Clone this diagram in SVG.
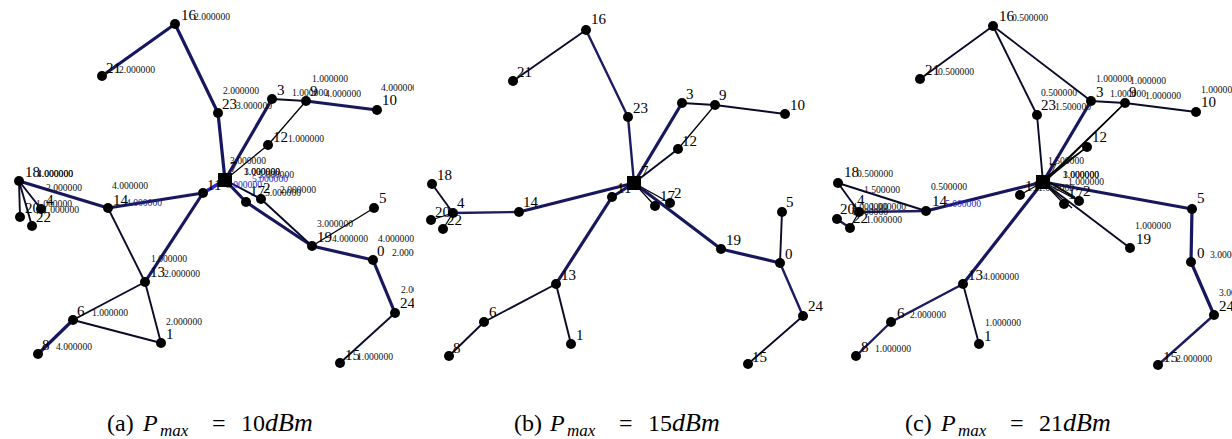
<svg xmlns="http://www.w3.org/2000/svg" width="1232" height="439" viewBox="0 0 1232 439">
<defs>
<style>
.n{fill:#000}
.h{fill:#000}
.lb{font-family:"Liberation Serif",serif;font-size:15px;fill:#000}
.v{font-family:"Liberation Serif",serif;font-size:9.6px;fill:#111}
.vb{font-family:"Liberation Serif",serif;font-size:9.6px;fill:#2a2acc}
.t{stroke:#000;stroke-width:1.3;fill:none}
.k{stroke:#0a0a2a;stroke-width:1.9;fill:none}
.m{stroke:#1b1b60;stroke-width:2.4;fill:none}
.w{stroke:#17175e;stroke-width:3.2;fill:none}
.b{stroke:#2b2bd0;stroke-width:3.6;fill:none}
.cap{font-family:"Liberation Serif",serif;font-size:24px;fill:#000}
.capi{font-family:"Liberation Serif",serif;font-style:italic;fill:#000}
</style>
<clipPath id="ca"><rect x="0" y="0" width="414" height="400"/></clipPath>
<clipPath id="cb"><rect x="414" y="0" width="412" height="400"/></clipPath>
<clipPath id="cc"><rect x="820" y="0" width="412" height="400"/></clipPath>
</defs>
<rect width="1232" height="439" fill="#fff"/>

<!-- ================= PANEL A ================= -->
<g id="panel-a" clip-path="url(#ca)">
<g id="a-edges">
<line class="w" x1="175" y1="24" x2="102" y2="76"/>
<line class="w" x1="175" y1="24" x2="218" y2="113"/>
<line class="w" x1="218" y1="113" x2="225" y2="180"/>
<line class="w" x1="225" y1="180" x2="272" y2="99"/>
<line class="k" x1="272" y1="99" x2="306" y2="101"/>
<line class="w" x1="306" y1="101" x2="377" y2="110"/>
<line class="t" x1="306" y1="101" x2="268" y2="145"/>
<line class="t" x1="268" y1="145" x2="225" y2="180"/>
<line class="w" x1="19" y1="181" x2="108" y2="208"/>
<line class="k" x1="19" y1="181" x2="20" y2="217"/>
<line class="k" x1="19" y1="181" x2="32" y2="226"/>
<line class="k" x1="19" y1="181" x2="41" y2="209"/>
<line class="w" x1="108" y1="208" x2="203" y2="193"/>
<line class="b" x1="203" y1="193" x2="225" y2="180"/>
<line class="k" x1="108" y1="208" x2="145" y2="282"/>
<line class="w" x1="203" y1="193" x2="145" y2="282"/>
<line class="k" x1="145" y1="282" x2="73" y2="320"/>
<line class="k" x1="145" y1="282" x2="161" y2="343"/>
<line class="k" x1="73" y1="320" x2="161" y2="343"/>
<line class="w" x1="73" y1="320" x2="38" y2="354"/>
<line class="w" x1="225" y1="180" x2="246" y2="202"/>
<line class="w" x1="246" y1="202" x2="312" y2="246"/>
<line class="k" x1="225" y1="180" x2="261" y2="199"/>
<line class="k" x1="261" y1="199" x2="312" y2="246"/>
<line class="t" x1="312" y1="246" x2="374" y2="208"/>
<line class="w" x1="312" y1="246" x2="373" y2="260"/>
<line class="w" x1="373" y1="260" x2="395" y2="313"/>
<line class="k" x1="395" y1="313" x2="340" y2="363"/>
</g>
<g id="a-n16"><circle class="n" cx="175" cy="24" r="5"/><text class="lb" x="181" y="20">16</text><text class="v" x="194" y="20">2.000000</text></g>
<g id="a-n21"><circle class="n" cx="102" cy="76" r="5"/><text class="lb" x="106" y="73">21</text><text class="v" x="119" y="73">2.000000</text></g>
<g id="a-n23"><circle class="n" cx="218" cy="113" r="5"/><text class="lb" x="222" y="109">23</text><text class="v" x="236" y="109">3.000000</text><text class="v" x="223" y="94">2.000000</text></g>
<g id="a-n3"><circle class="n" cx="272" cy="99" r="5"/><text class="lb" x="277" y="95">3</text></g>
<g id="a-n9"><circle class="n" cx="306" cy="101" r="5"/><text class="v" x="292" y="96">1.000000</text><text class="lb" x="310" y="96">9</text><text class="v" x="325" y="97">4.000000</text><text class="v" x="312" y="82">1.000000</text></g>
<g id="a-n10"><circle class="n" cx="377" cy="110" r="5"/><text class="lb" x="382" y="105">10</text><text class="v" x="381" y="91">4.000000</text></g>
<g id="a-n12"><circle class="n" cx="268" cy="145" r="5"/><text class="lb" x="273" y="142">12</text><text class="v" x="288" y="142">1.000000</text></g>
<g id="a-n18"><circle class="n" cx="19" cy="181" r="5"/><text class="lb" x="25" y="177">18</text><text class="v" x="37" y="177">4.000000</text><text class="v" x="37" y="177">1.000000</text><text class="v" x="46" y="191">2.000000</text></g>
<g id="a-n20"><circle class="n" cx="20" cy="217" r="5"/><text class="lb" x="25" y="213">20</text></g>
<g id="a-n22"><circle class="n" cx="32" cy="226" r="5"/><text class="lb" x="36" y="222">22</text></g>
<g id="a-n4"><circle class="n" cx="41" cy="209" r="5"/><text class="lb" x="46" y="205">4</text><text class="v" x="36" y="207">1.000000</text><text class="v" x="43" y="213">1.000000</text></g>
<g id="a-n14"><circle class="n" cx="108" cy="208" r="5"/><text class="lb" x="113" y="205">14</text><text class="v" x="126" y="206" style="fill:#222288">4.000000</text><text class="v" x="112" y="189">4.000000</text></g>
<g id="a-n11"><circle class="n" cx="203" cy="193" r="5"/><text class="lb" x="207" y="190">11</text></g>
<g id="a-n17"><circle class="n" cx="246" cy="202" r="5"/><text class="lb" x="250" y="196">17</text><text class="v" x="265" y="196">5.000000</text></g>
<g id="a-n2"><circle class="n" cx="261" cy="199" r="5"/><text class="lb" x="263" y="193">2</text><text class="v" x="280" y="193">2.000000</text></g>
<g id="a-n7"><text class="v" x="230" y="164">3.000000</text><text class="lb" x="230" y="172">7</text><text class="v" x="244" y="175">1.000000</text><text class="v" x="244" y="175">3.000000</text><text class="v" x="258" y="178">5.000000</text><text class="vb" x="252" y="182">5.000000</text><text class="vb" x="226" y="188">5.000000</text><rect class="h" x="218" y="173" width="14" height="14"/></g>
<g id="a-n19"><circle class="n" cx="312" cy="246" r="5"/><text class="lb" x="317" y="242">19</text><text class="v" x="332" y="242">4.000000</text><text class="v" x="317" y="227">3.000000</text></g>
<g id="a-n5"><circle class="n" cx="374" cy="208" r="5"/><text class="lb" x="379" y="203">5</text></g>
<g id="a-n0"><circle class="n" cx="373" cy="260" r="5"/><text class="lb" x="377" y="256">0</text><text class="v" x="392" y="256">2.000000</text><text class="v" x="378" y="242">4.000000</text></g>
<g id="a-n24"><circle class="n" cx="395" cy="313" r="5"/><text class="lb" x="400" y="308">24</text><text class="v" x="401" y="293">2.000000</text></g>
<g id="a-n15"><circle class="n" cx="340" cy="363" r="5"/><text class="lb" x="345" y="360">15</text><text class="v" x="357" y="360">1.000000</text></g>
<g id="a-n13"><circle class="n" cx="145" cy="282" r="5"/><text class="lb" x="150" y="277">13</text><text class="v" x="164" y="277">2.000000</text><text class="v" x="151" y="262">1.000000</text></g>
<g id="a-n6"><circle class="n" cx="73" cy="320" r="5"/><text class="lb" x="77" y="316">6</text><text class="v" x="92" y="316">1.000000</text></g>
<g id="a-n1"><circle class="n" cx="161" cy="343" r="5"/><text class="lb" x="166" y="339">1</text><text class="v" x="166" y="325">2.000000</text></g>
<g id="a-n8"><circle class="n" cx="38" cy="354" r="5"/><text class="lb" x="42" y="350">8</text><text class="v" x="56" y="350">4.000000</text></g>
</g>

<!-- ================= PANEL B ================= -->
<g id="panel-b" clip-path="url(#cb)">
<g id="b-edges">
<line class="k" x1="586" y1="30" x2="513" y2="81"/>
<line class="m" x1="586" y1="30" x2="628" y2="117"/>
<line class="m" x1="628" y1="117" x2="634" y2="183"/>
<line class="w" x1="634" y1="183" x2="682" y2="103"/>
<line class="k" x1="682" y1="103" x2="715" y2="105"/>
<line class="k" x1="715" y1="105" x2="785" y2="114"/>
<line class="t" x1="715" y1="105" x2="678" y2="149"/>
<line class="k" x1="678" y1="149" x2="634" y2="183"/>
<line class="k" x1="432" y1="184" x2="453" y2="213"/>
<line class="t" x1="453" y1="213" x2="431" y2="220"/>
<line class="t" x1="453" y1="213" x2="443" y2="229"/>
<line class="m" x1="453" y1="213" x2="519" y2="212"/>
<line class="w" x1="519" y1="212" x2="634" y2="183"/>
<line class="w" x1="634" y1="183" x2="612" y2="197"/>
<line class="w" x1="612" y1="197" x2="556" y2="284"/>
<line class="t" x1="634" y1="183" x2="655" y2="206"/>
<line class="t" x1="634" y1="183" x2="670" y2="203"/>
<line class="w" x1="634" y1="183" x2="721" y2="249"/>
<line class="w" x1="721" y1="249" x2="780" y2="263"/>
<line class="k" x1="780" y1="263" x2="782" y2="212"/>
<line class="m" x1="780" y1="263" x2="803" y2="316"/>
<line class="k" x1="803" y1="316" x2="748" y2="364"/>
<line class="k" x1="556" y1="284" x2="484" y2="322"/>
<line class="k" x1="484" y1="322" x2="449" y2="356"/>
<line class="k" x1="556" y1="284" x2="571" y2="344"/>
</g>
<g id="b-n16"><circle class="n" cx="586" cy="30" r="5"/><text class="lb" x="591" y="24">16</text></g>
<g id="b-n21"><circle class="n" cx="513" cy="81" r="5"/><text class="lb" x="517" y="77">21</text></g>
<g id="b-n23"><circle class="n" cx="628" cy="117" r="5"/><text class="lb" x="633" y="113">23</text></g>
<g id="b-n3"><circle class="n" cx="682" cy="103" r="5"/><text class="lb" x="686" y="99">3</text></g>
<g id="b-n9"><circle class="n" cx="715" cy="105" r="5"/><text class="lb" x="719" y="100">9</text></g>
<g id="b-n10"><circle class="n" cx="785" cy="114" r="5"/><text class="lb" x="790" y="110">10</text></g>
<g id="b-n12"><circle class="n" cx="678" cy="149" r="5"/><text class="lb" x="682" y="146">12</text></g>
<g id="b-n18"><circle class="n" cx="432" cy="184" r="5"/><text class="lb" x="437" y="180">18</text></g>
<g id="b-n4"><circle class="n" cx="453" cy="213" r="5"/><text class="lb" x="457" y="208">4</text></g>
<g id="b-n20"><circle class="n" cx="431" cy="220" r="5"/><text class="lb" x="435" y="217">20</text></g>
<g id="b-n22"><circle class="n" cx="443" cy="229" r="5"/><text class="lb" x="447" y="225">22</text></g>
<g id="b-n14"><circle class="n" cx="519" cy="212" r="5"/><text class="lb" x="523" y="207">14</text></g>
<g id="b-n11"><circle class="n" cx="612" cy="197" r="5"/><text class="lb" x="617" y="193">11</text></g>
<g id="b-n7"><text class="lb" x="641" y="176">7</text><rect class="h" x="627" y="176" width="14" height="14"/></g>
<g id="b-n17"><circle class="n" cx="655" cy="206" r="5"/><text class="lb" x="660" y="201">17</text></g>
<g id="b-n2"><circle class="n" cx="670" cy="203" r="5"/><text class="lb" x="674" y="198">2</text></g>
<g id="b-n19"><circle class="n" cx="721" cy="249" r="5"/><text class="lb" x="726" y="245">19</text></g>
<g id="b-n0"><circle class="n" cx="780" cy="263" r="5"/><text class="lb" x="785" y="259">0</text></g>
<g id="b-n5"><circle class="n" cx="782" cy="212" r="5"/><text class="lb" x="786" y="207">5</text></g>
<g id="b-n24"><circle class="n" cx="803" cy="316" r="5"/><text class="lb" x="808" y="311">24</text></g>
<g id="b-n15"><circle class="n" cx="748" cy="364" r="5"/><text class="lb" x="752" y="362">15</text></g>
<g id="b-n13"><circle class="n" cx="556" cy="284" r="5"/><text class="lb" x="561" y="280">13</text></g>
<g id="b-n6"><circle class="n" cx="484" cy="322" r="5"/><text class="lb" x="489" y="317">6</text></g>
<g id="b-n1"><circle class="n" cx="571" cy="344" r="5"/><text class="lb" x="576" y="340">1</text></g>
<g id="b-n8"><circle class="n" cx="449" cy="356" r="5"/><text class="lb" x="453" y="353">8</text></g>
</g>

<!-- ================= PANEL C ================= -->
<g id="panel-c" clip-path="url(#cc)">
<g id="c-edges">
<line class="k" x1="993" y1="26" x2="920" y2="79"/>
<line class="k" x1="993" y1="26" x2="1037" y2="115"/>
<line class="k" x1="993" y1="26" x2="1091" y2="101"/>
<line class="k" x1="1037" y1="115" x2="1043" y2="182"/>
<line class="w" x1="1043" y1="182" x2="1091" y2="101"/>
<line class="k" x1="1091" y1="101" x2="1125" y2="103"/>
<line class="k" x1="1125" y1="103" x2="1196" y2="112"/>
<line class="t" x1="1125" y1="103" x2="1043" y2="182"/>
<line class="t" x1="1125" y1="103" x2="1048" y2="179"/>
<line class="t" x1="1087" y1="147" x2="1043" y2="182"/>
<line class="t" x1="1087" y1="147" x2="1046" y2="177"/>
<line class="k" x1="838" y1="183" x2="926" y2="211"/>
<line class="k" x1="838" y1="183" x2="859" y2="212"/>
<line class="t" x1="859" y1="212" x2="850" y2="228"/>
<line class="m" x1="837" y1="219" x2="850" y2="228"/>
<line class="m" x1="859" y1="212" x2="926" y2="211"/>
<line class="w" x1="926" y1="211" x2="1043" y2="182"/>
<line class="w" x1="1043" y1="182" x2="1192" y2="209"/>
<line class="w" x1="1192" y1="209" x2="1191" y2="262"/>
<line class="w" x1="1191" y1="262" x2="1214" y2="315"/>
<line class="m" x1="1214" y1="315" x2="1158" y2="365"/>
<line class="w" x1="1043" y1="182" x2="963" y2="284"/>
<line class="t" x1="1043" y1="182" x2="1020" y2="195"/>
<line class="m" x1="963" y1="284" x2="891" y2="322"/>
<line class="m" x1="891" y1="322" x2="856" y2="356"/>
<line class="k" x1="963" y1="284" x2="979" y2="344"/>
<line class="k" x1="1043" y1="182" x2="1130" y2="248"/>
<line class="t" x1="1043" y1="182" x2="1064" y2="204"/>
<line class="t" x1="1043" y1="182" x2="1079" y2="201"/>
<line class="t" x1="1045" y1="180" x2="1083" y2="203"/>
<line class="t" x1="1043" y1="182" x2="1072" y2="208"/>
<line class="t" x1="1046" y1="180" x2="1075" y2="197"/>
</g>
<g id="c-n16"><circle class="n" cx="993" cy="26" r="5"/><text class="lb" x="999" y="21">16</text><text class="v" x="1012" y="21">0.500000</text></g>
<g id="c-n21"><circle class="n" cx="920" cy="79" r="5"/><text class="lb" x="925" y="75">21</text><text class="v" x="938" y="75">0.500000</text></g>
<g id="c-n23"><circle class="n" cx="1037" cy="115" r="5"/><text class="lb" x="1041" y="110">23</text><text class="v" x="1055" y="110">1.500000</text><text class="v" x="1041" y="96">0.500000</text></g>
<g id="c-n3"><circle class="n" cx="1091" cy="101" r="5"/><text class="lb" x="1096" y="97">3</text><text class="v" x="1096" y="82">1.000000</text><text class="v" x="1130" y="84">1.000000</text></g>
<g id="c-n9"><circle class="n" cx="1125" cy="103" r="5"/><text class="v" x="1110" y="97">1.000000</text><text class="lb" x="1129" y="97">9</text><text class="v" x="1145" y="99">1.000000</text></g>
<g id="c-n10"><circle class="n" cx="1196" cy="112" r="5"/><text class="lb" x="1201" y="107">10</text><text class="v" x="1201" y="93">1.000000</text></g>
<g id="c-n12"><circle class="n" cx="1087" cy="147" r="5"/><text class="lb" x="1092" y="142">12</text></g>
<g id="c-n18"><circle class="n" cx="838" cy="183" r="5"/><text class="lb" x="844" y="177">18</text><text class="v" x="857" y="177">0.500000</text><text class="v" x="864" y="193">1.500000</text></g>
<g id="c-n20"><circle class="n" cx="837" cy="219" r="5"/><text class="lb" x="840" y="214">20</text></g>
<g id="c-n4"><circle class="n" cx="859" cy="212" r="5"/><text class="lb" x="857" y="205">4</text><text class="v" x="852" y="210">4.000000</text><text class="v" x="870" y="210">1.000000</text><text class="v" x="852" y="215">0.000000</text></g>
<g id="c-n22"><circle class="n" cx="850" cy="228" r="5"/><text class="lb" x="853" y="223">22</text><text class="v" x="866" y="223">1.000000</text></g>
<g id="c-n14"><circle class="n" cx="926" cy="211" r="5"/><text class="lb" x="932" y="206">14</text><text class="vb" x="945" y="207">5.000000</text><text class="v" x="931" y="190">0.500000</text></g>
<g id="c-n11"><circle class="n" cx="1020" cy="195" r="5"/><text class="lb" x="1025" y="191">11</text><text class="v" x="1038" y="191">1.000000</text></g>
<g id="c-n7"><text class="lb" x="1049" y="174">7</text><text class="v" x="1048" y="164">1.500000</text><text class="v" x="1063" y="178">3.000000</text><text class="v" x="1063" y="178">1.000000</text><text class="v" x="1068" y="185">1.000000</text><rect class="h" x="1036" y="175" width="14" height="14"/></g>
<g id="c-n17"><circle class="n" cx="1064" cy="204" r="5"/><text class="lb" x="1068" y="199">17</text></g>
<g id="c-n2"><circle class="n" cx="1079" cy="201" r="5"/><text class="lb" x="1083" y="196">2</text></g>
<g id="c-n5"><circle class="n" cx="1192" cy="209" r="5"/><text class="lb" x="1197" y="203">5</text></g>
<g id="c-n19"><circle class="n" cx="1130" cy="248" r="5"/><text class="lb" x="1136" y="244">19</text><text class="v" x="1135" y="229">1.000000</text></g>
<g id="c-n0"><circle class="n" cx="1191" cy="262" r="5"/><text class="lb" x="1197" y="258">0</text><text class="v" x="1210" y="258">3.000000</text></g>
<g id="c-n24"><circle class="n" cx="1214" cy="315" r="5"/><text class="lb" x="1219" y="311">24</text><text class="v" x="1219" y="296">3.000000</text></g>
<g id="c-n15"><circle class="n" cx="1158" cy="365" r="5"/><text class="lb" x="1163" y="362">15</text><text class="v" x="1176" y="362">2.000000</text></g>
<g id="c-n13"><circle class="n" cx="963" cy="284" r="5"/><text class="lb" x="968" y="280">13</text><text class="v" x="983" y="280">4.000000</text></g>
<g id="c-n6"><circle class="n" cx="891" cy="322" r="5"/><text class="lb" x="897" y="318">6</text><text class="v" x="910" y="318">2.000000</text></g>
<g id="c-n1"><circle class="n" cx="979" cy="344" r="5"/><text class="lb" x="984" y="341">1</text><text class="v" x="985" y="326">1.000000</text></g>
<g id="c-n8"><circle class="n" cx="856" cy="356" r="5"/><text class="lb" x="861" y="352">8</text><text class="v" x="875" y="352">1.000000</text></g>
</g>

<!-- ================= CAPTIONS ================= -->
<g id="captions">
<text class="cap" y="431"><tspan x="107">(a)</tspan><tspan class="capi" x="143">P</tspan><tspan class="capi" x="160" y="436" style="font-size:17px">max</tspan><tspan x="212" y="431">=</tspan><tspan x="241">10</tspan><tspan class="capi" x="265" style="font-size:26px">dBm</tspan></text>
<text class="cap" y="431"><tspan x="514">(b)</tspan><tspan class="capi" x="550">P</tspan><tspan class="capi" x="567" y="436" style="font-size:17px">max</tspan><tspan x="619" y="431">=</tspan><tspan x="648">15</tspan><tspan class="capi" x="672" style="font-size:26px">dBm</tspan></text>
<text class="cap" y="431"><tspan x="905">(c)</tspan><tspan class="capi" x="941">P</tspan><tspan class="capi" x="958" y="436" style="font-size:17px">max</tspan><tspan x="1010" y="431">=</tspan><tspan x="1039">21</tspan><tspan class="capi" x="1063" style="font-size:26px">dBm</tspan></text>
</g>
</svg>
